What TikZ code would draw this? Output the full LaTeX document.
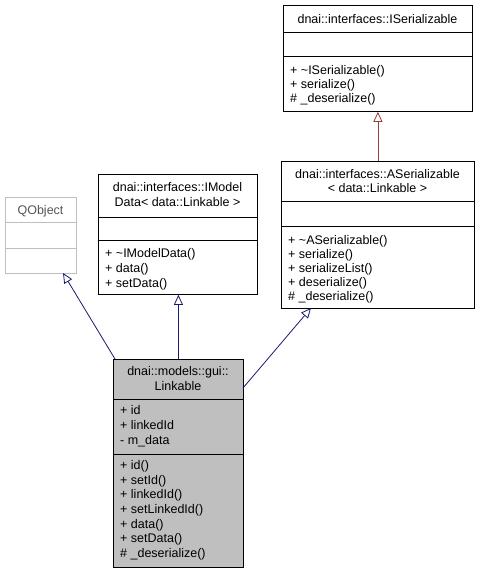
\documentclass[tikz,border=0pt]{standalone}
\usepackage{fontspec}
\setmainfont{Liberation Sans}
\usetikzlibrary{arrows.meta}
\definecolor{navyedge}{HTML}{191970}
\definecolor{rededge}{HTML}{9B3B3B}
\definecolor{clsgray}{HTML}{BFBFBF}
\definecolor{extgray}{HTML}{BFBFBF}
\definecolor{exttext}{HTML}{555555}
\begin{document}
\begin{tikzpicture}[x=1pt,y=-1pt,
  box/.style={draw=black, line width=0.8pt, fill=white, inner sep=0pt, anchor=north west},
  extbox/.style={draw=extgray, line width=0.8pt, fill=white, inner sep=0pt, anchor=north west},
  txt/.style={inner sep=0pt, font=\fontsize{12.5}{14}\selectfont},
  lt/.style={txt, anchor=base west},
  ct/.style={txt, anchor=base},
  inh/.style={draw=navyedge, line width=0.8pt, -{Triangle[open, length=10pt, width=9pt]}},
  inhred/.style={draw=rededge, line width=0.8pt, -{Triangle[open, length=10pt, width=9pt]}},
]
\useasboundingbox (0,0) rectangle (481,573);

% ---------- dnai::interfaces::ISerializable
\node[box, minimum width=189pt, minimum height=106pt] (ser) at (283,5) {};
\draw[line width=0.8pt] (ser.west |- 0,32) -- (ser.east |- 0,32);
\draw[line width=0.8pt] (ser.west |- 0,56) -- (ser.east |- 0,56);
\node[ct] (sert) at (377.5,23) {dnai::interfaces::ISerializable};
\node[lt] (serm1) at (290,74.5) {+ \textasciitilde ISerializable()};
\node[lt] (serm2) at (290,88) {+ serialize()};
\node[lt] (serm3) at (290,102) {\# \_deserialize()};

% ---------- dnai::interfaces::ASerializable
\node[box, minimum width=193pt, minimum height=147pt] (aser) at (281,161) {};
\draw[line width=0.8pt] (aser.west |- 0,201) -- (aser.east |- 0,201);
\draw[line width=0.8pt] (aser.west |- 0,226) -- (aser.east |- 0,226);
\node[ct] (asert1) at (377.5,178.5) {dnai::interfaces::ASerializable};
\node[ct] (asert2) at (377.5,192) {< data::Linkable >};
\node[lt] (aserm1) at (288,244.5) {+ \textasciitilde ASerializable()};
\node[lt] (aserm2) at (288,258.5) {+ serialize()};
\node[lt] (aserm3) at (288,272.5) {+ serializeList()};
\node[lt] (aserm4) at (288,286.5) {+ deserialize()};
\node[lt] (aserm5) at (288,300.5) {\# \_deserialize()};

% ---------- dnai::interfaces::IModelData
\node[box, minimum width=159pt, minimum height=120pt] (imd) at (98,174) {};
\draw[line width=0.8pt] (imd.west |- 0,217) -- (imd.east |- 0,217);
\draw[line width=0.8pt] (imd.west |- 0,240) -- (imd.east |- 0,240);
\node[ct] (imdt1) at (177.5,191.5) {dnai::interfaces::IModel};
\node[ct] (imdt2) at (177.5,206) {Data< data::Linkable >};
\node[lt] (imdm1) at (105,257.5) {+ \textasciitilde IModelData()};
\node[lt] (imdm2) at (105,272.5) {+ data()};
\node[lt] (imdm3) at (105,287.5) {+ setData()};

% ---------- QObject
\node[extbox, minimum width=71pt, minimum height=76pt] (qobj) at (5,197) {};
\draw[draw=extgray, line width=0.8pt] (qobj.west |- 0,222) -- (qobj.east |- 0,222);
\draw[draw=extgray, line width=0.8pt] (qobj.west |- 0,248) -- (qobj.east |- 0,248);
\node[ct, text=exttext] (qobjt) at (40.5,214) {QObject};

% ---------- dnai::models::gui::Linkable
\node[box, fill=clsgray, minimum width=130pt, minimum height=208pt] (link) at (113,359) {};
\draw[line width=0.8pt] (link.west |- 0,399) -- (link.east |- 0,399);
\draw[line width=0.8pt] (link.west |- 0,454) -- (link.east |- 0,454);
\node[ct] (linkt1) at (178,375.5) {dnai::models::gui::};
\node[ct] (linkt2) at (178,390.5) {Linkable};
\node[lt] (linka1) at (120,414.5) {+ id};
\node[lt] (linka2) at (120,429.5) {+ linkedId};
\node[lt] (linka3) at (120,444.5) {- m\_data};
\node[lt] (linkm1) at (120,469.5) {+ id()};
\node[lt] (linkm2) at (120,484.5) {+ setId()};
\node[lt] (linkm3) at (120,498.5) {+ linkedId()};
\node[lt] (linkm4) at (120,513.5) {+ setLinkedId()};
\node[lt] (linkm5) at (120,528.5) {+ data()};
\node[lt] (linkm6) at (120,542.5) {+ setData()};
\node[lt] (linkm7) at (120,557.5) {\# \_deserialize()};

% ---------- inheritance connectors
\coordinate (qtip) at (63,273);
\coordinate (lq) at (115,359);
\coordinate (la) at (243,388);
\coordinate (atip) at (311,308);
\draw[inh] (lq) -- (qtip);
\draw[inh] (link.north) -- (link.north |- imd.south);
\draw[inh] (la) -- (atip);
\draw[inhred] (aser.north) -- (ser.south);
\end{tikzpicture}
\end{document}
